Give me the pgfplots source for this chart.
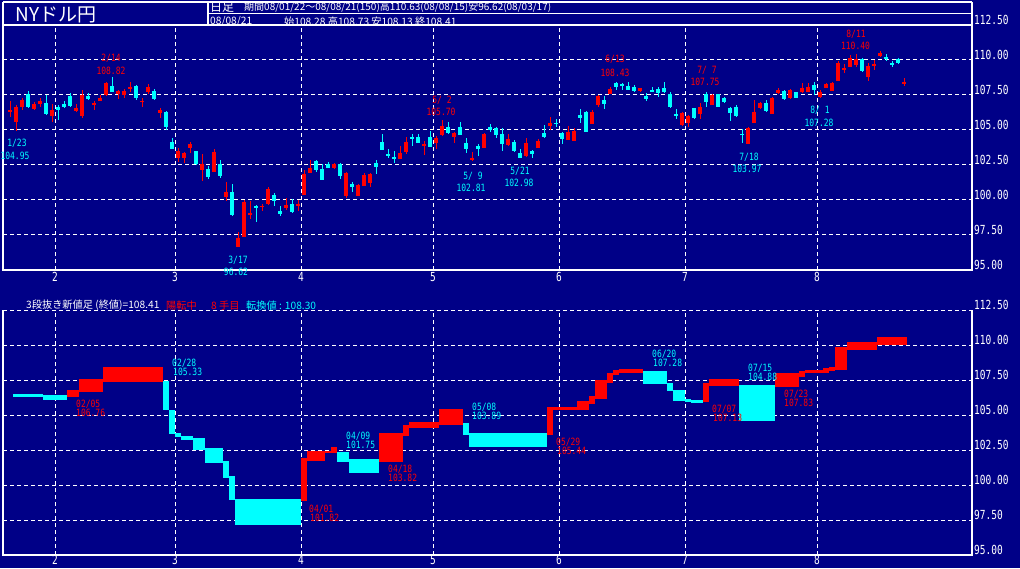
\documentclass[border=0pt]{standalone}
\usepackage{pgfplots}
\pgfplotsset{compat=1.18}
\usepackage{pgfplotstable}
\usepackage{fontspec}
\setmainfont{Noto Sans CJK JP}
\newfontfamily\jp{Noto Sans CJK JP}
\newfontfamily\monoS[FakeStretch=0.8]{DejaVu Sans Mono}
\newfontfamily\monoL[FakeStretch=0.76]{DejaVu Sans Mono}
\definecolor{bg}{RGB}{0,0,135}
\definecolor{cy}{RGB}{0,255,255}
\definecolor{rd}{RGB}{255,0,0}

% up candles (red)
\pgfplotstableread{
i O H L C
0 106.33 107.05 105.95 106.45
1 105.6 106.8 104.95 106.67
2 106.64 107.26 106.43 107.12
4 106.48 107.0 106.43 106.86
5 106.88 107.26 106.62 107.07
7 106.02 106.83 105.6 106.4
11 106.38 106.83 106.26 106.55
12 105.98 107.83 105.83 107.48
14 106.79 107.07 106.43 106.9
15 107.07 107.5 107.05 107.26
16 107.5 108.4 107.45 108.33
18 107.6 107.83 107.2 107.76
19 107.5 107.9 107.31 107.79
20 107.93 108.4 107.69 108.07
22 106.98 107.31 106.64 107.1
23 107.69 108.26 107.6 108.07
25 106.21 106.6 105.88 106.43
28 102.98 103.69 102.74 103.48
29 102.98 103.4 102.62 103.33
30 103.69 104.17 103.36 103.98
32 102.14 103.26 101.36 102.6
34 102.0 103.62 102.0 103.4
36 100.21 101.26 99.93 100.6
38 96.62 97.74 96.62 97.26
39 97.33 100.0 97.33 99.83
40 98.93 99.93 98.62 99.05
42 99.48 99.74 99.21 99.6
43 99.74 100.9 99.62 100.76
46 99.4 100.14 99.26 99.62
48 99.57 100.0 99.21 99.71
49 100.36 102.14 100.36 101.83
50 101.93 102.86 101.93 102.31
54 102.26 102.67 102.21 102.6
56 100.29 102.02 100.12 101.9
58 100.31 101.12 100.31 101.05
59 100.98 101.9 100.98 101.79
60 101.19 101.9 100.93 101.83
65 102.93 103.83 102.93 103.33
66 103.4 104.52 103.26 104.17
69 103.88 104.21 103.21 104.0
71 104.05 104.6 103.64 104.4
72 104.64 105.7 104.6 105.31
74 104.52 104.88 104.05 104.76
77 102.9 103.4 102.81 103.0
79 103.69 104.76 103.69 104.69
83 103.93 104.69 103.88 104.36
86 103.17 104.4 103.1 104.05
88 103.69 104.36 103.69 104.21
90 105.29 105.9 105.0 105.48
93 104.29 105.29 104.29 104.83
94 104.24 105.17 104.24 104.93
97 105.4 106.43 105.4 106.26
98 106.79 107.5 106.62 107.43
100 107.57 108.1 107.57 107.93
105 107.79 108.02 107.74 107.98
112 105.35 106.26 105.3 106.19
113 105.47 106.07 105.23 106.02
115 106.11 106.95 105.82 106.66
117 106.78 107.54 106.78 107.5
123 103.97 105.23 103.97 105.17
124 105.47 107.14 105.47 106.25
125 106.59 106.97 106.5 106.9
127 106.11 107.37 106.11 107.3
128 107.61 107.97 107.54 107.85
130 107.26 107.92 107.2 107.85
132 107.68 108.33 107.61 108.02
133 107.73 108.33 107.68 108.09
135 107.33 107.85 107.28 107.68
136 107.97 108.33 107.97 108.26
137 107.78 108.4 107.78 108.33
138 108.5 109.93 108.5 109.76
139 109.28 109.69 109.05 109.45
140 109.52 110.35 109.47 110.12
141 109.64 110.4 109.52 110.07
143 108.76 109.76 108.5 109.57
144 109.57 110.0 109.28 109.69
145 110.31 110.63 110.24 110.52
149 108.28 108.73 108.13 108.41
}\upT

% down candles (cyan)
\pgfplotstableread{
i O H L C
3 107.55 107.8 106.6 106.64
6 106.9 107.5 106.1 106.14
8 106.64 106.8 105.71 106.43
9 106.86 107.07 106.55 106.62
10 107.43 107.62 106.67 106.71
13 107.4 107.62 107.17 107.21
17 108.17 108.82 107.7 107.74
21 108.12 108.21 107.14 107.26
24 107.79 107.9 107.14 107.19
26 106.31 106.38 105.0 105.24
27 104.17 104.4 103.64 103.64
31 103.48 103.52 102.5 102.55
33 102.19 102.45 101.5 101.62
35 102.55 102.83 101.6 101.69
37 100.55 101.17 98.88 98.93
41 99.57 99.64 98.4 99.43
44 100.36 100.48 99.57 99.93
45 99.19 99.57 98.86 99.02
47 99.71 100.1 99.05 99.12
51 102.81 102.86 102.02 102.14
52 102.19 102.6 101.43 101.43
53 102.57 102.74 102.26 102.31
55 102.55 102.67 101.5 101.74
57 101.17 101.26 100.55 100.95
61 102.67 102.86 101.86 102.36
62 104.12 104.69 103.57 103.57
63 103.26 103.64 102.98 103.17
64 103.07 103.52 102.62 102.93
67 104.48 104.69 103.88 104.36
68 104.52 104.69 104.05 104.05
70 104.52 104.93 103.81 103.81
73 105.24 105.6 104.69 104.76
75 105.24 105.6 104.64 104.64
76 104.05 104.45 103.33 103.64
78 103.88 103.98 103.17 103.64
80 105.24 105.4 104.83 105.0
81 105.12 105.24 104.4 104.64
82 104.69 105.12 103.5 103.98
84 104.12 104.29 103.45 103.52
85 103.33 103.64 102.98 102.98
87 103.5 103.57 102.98 103.29
89 104.76 105.36 104.4 104.52
91 105.52 105.76 105.24 105.45
92 104.76 104.83 103.98 104.36
95 106.07 106.5 105.48 105.83
96 106.31 106.38 104.83 104.83
99 107.17 107.43 106.5 106.86
101 108.38 108.43 107.83 108.07
102 108.29 108.36 107.86 108.21
103 108.17 108.4 107.86 107.86
104 108.1 108.21 107.69 107.79
106 107.4 107.64 107.07 107.21
107 107.83 108.1 107.69 107.76
108 107.93 108.05 107.38 107.67
109 108.0 108.4 107.62 107.69
110 107.55 107.69 106.59 106.66
111 106.12 106.5 105.78 106.04
114 106.54 106.59 105.78 105.87
116 107.54 107.75 106.66 107.02
118 107.54 107.54 106.66 106.66
119 107.26 107.38 106.9 107.02
120 106.59 106.66 105.63 106.18
121 106.66 106.78 105.94 106.01
122 104.75 105.1 104.1 104.63
126 106.9 107.14 106.3 106.35
129 107.78 107.85 107.14 107.2
131 107.68 107.73 107.26 107.3
134 108.21 108.4 107.49 107.85
142 110.07 110.12 109.16 109.21
146 110.24 110.4 109.93 110.05
147 109.76 109.93 109.5 109.64
148 110.05 110.12 109.74 109.81
}\dnT

\pgfplotsset{
  panel/.style={
    scale only axis, width=969pt, height=245pt,
    xmin=-1.1667, xmax=160.3333, ymin=95, ymax=112.5,
    clip=false,
    axis line style={draw=none},
    xtick={7.5,27.5,48.5,70.5,91.5,112.5,134.5},
    xticklabels={2,3,4,5,6,7,8},
    ytick={95,97.5,100,102.5,105,107.5,110,112.5},
    yticklabel pos=right,
    major tick length=0pt,
    grid=major,
    major grid style={white, dash pattern=on 4pt off 3pt, line width=1pt},
    tick label style={text=white, font=\monoL\fontsize{12.5}{12.5}\selectfont},
    /pgf/number format/assume math mode=true,
    yticklabel style={anchor=west, inner sep=0pt, xshift=2pt, yshift=5pt,
      /pgf/number format/fixed, /pgf/number format/fixed zerofill,
      /pgf/number format/precision=2},
    xticklabel style={anchor=north, inner sep=0pt},
  },
  wick/.style={draw=none, mark=none, forget plot,
    error bars/.cd, y dir=both, y explicit, error mark=none,
    error bar style={draw=#1, solid, line width=1pt}},
  body/.style={draw=none, mark=none, forget plot,
    error bars/.cd, y dir=both, y explicit, error mark=none,
    error bar style={draw=#1, solid, line width=4.8pt}},
}

\newcommand\blk[5]{\addplot[fill=#1, draw=none, forget plot] coordinates {(#2,#4) (#3,#4) (#3,#5) (#2,#5)};}
\newcommand\lab[4]{\node[text=#1, inner sep=0pt, font=\monoS\fontsize{10}{10}\selectfont] at (#2pt,{(568-#3)*1pt}) {#4};}
\newcommand\labw[4]{\node[text=#1, inner sep=0pt, anchor=west, font=\monoS\fontsize{10}{10}\selectfont] at (#2pt,{(568-#3)*1pt}) {#4};}

\begin{document}
\begin{tikzpicture}
\path[use as bounding box] (0pt,0pt) rectangle (1020pt,568pt);
\fill[bg] (0pt,0pt) rectangle (1020pt,568pt);

% ---------- upper panel: daily candles ----------
\begin{axis}[panel, at={(3pt,298pt)}, anchor=south west,
  xticklabel style={yshift=-2pt}]
\addplot[wick=rd] table[x=i, y expr={(\thisrow{H}+\thisrow{L})/2}, y error expr={(\thisrow{H}-\thisrow{L})/2}] {\upT};
\addplot[body=rd] table[x=i, y expr={(\thisrow{O}+\thisrow{C})/2}, y error expr={max(abs(\thisrow{C}-\thisrow{O})/2,0.045)}] {\upT};
\addplot[wick=cy] table[x=i, y expr={(\thisrow{H}+\thisrow{L})/2}, y error expr={(\thisrow{H}-\thisrow{L})/2}] {\dnT};
\addplot[body=cy] table[x=i, y expr={(\thisrow{O}+\thisrow{C})/2}, y error expr={max(abs(\thisrow{C}-\thisrow{O})/2,0.045)}] {\dnT};
\draw[white, line width=2pt] (rel axis cs:0,1) rectangle (rel axis cs:1,0);
\end{axis}

% ---------- lower panel: three-line break ----------
\begin{axis}[panel, at={(3pt,13pt)}, anchor=south west,
  xticklabel style={yshift=-0.5pt}]
\blk{cy}{0.5}{5.5}{106.31}{106.5}
\blk{cy}{5.5}{9.5}{106.07}{106.43}
\blk{rd}{9.5}{11.5}{106.3}{106.8}
\blk{rd}{11.5}{15.5}{106.67}{107.55}
\blk{rd}{15.5}{25.5}{107.38}{108.43}
\blk{cy}{25.5}{26.5}{105.33}{107.45}
\blk{cy}{26.5}{27.5}{103.62}{105.33}
\blk{cy}{27.5}{28.5}{103.4}{103.69}
\blk{cy}{28.5}{30.5}{103.21}{103.5}
\blk{cy}{30.5}{32.5}{102.5}{103.33}
\blk{cy}{32.5}{35.5}{101.6}{102.64}
\blk{cy}{35.5}{36.5}{100.52}{101.71}
\blk{cy}{36.5}{37.5}{98.9}{100.64}
\blk{cy}{37.5}{48.5}{97.17}{99.0}
\blk{rd}{48.5}{49.5}{98.88}{101.93}
\blk{rd}{49.5}{52.5}{101.74}{102.43}
\blk{rd}{52.5}{53.5}{102.26}{102.43}
\blk{rd}{53.5}{54.5}{102.26}{102.71}
\blk{cy}{54.5}{56.5}{101.67}{102.38}
\blk{cy}{56.5}{61.5}{100.88}{101.83}
\blk{rd}{61.5}{65.5}{101.67}{103.74}
\blk{rd}{65.5}{66.5}{103.5}{104.29}
\blk{rd}{66.5}{71.5}{104.1}{104.52}
\blk{rd}{71.5}{75.5}{104.29}{105.43}
\blk{cy}{75.5}{76.5}{103.57}{104.45}
\blk{cy}{76.5}{89.5}{102.74}{103.74}
\blk{rd}{89.5}{90.5}{103.57}{105.55}
\blk{rd}{90.5}{94.5}{105.36}{105.6}
\blk{rd}{94.5}{96.5}{105.36}{106.0}
\blk{rd}{96.5}{97.5}{105.79}{106.36}
\blk{rd}{97.5}{99.5}{106.12}{107.5}
\blk{rd}{99.5}{100.5}{107.31}{108.02}
\blk{rd}{100.5}{101.5}{107.86}{108.21}
\blk{rd}{101.5}{105.5}{108.02}{108.29}
\blk{cy}{105.5}{109.5}{107.19}{108.17}
\blk{cy}{109.5}{110.5}{106.71}{107.31}
\blk{cy}{110.5}{112.5}{106.02}{106.79}
\blk{cy}{112.5}{113.5}{105.95}{106.14}
\blk{cy}{113.5}{115.5}{105.83}{106.07}
\blk{rd}{115.5}{116.5}{105.95}{107.26}
\blk{rd}{116.5}{121.5}{107.07}{107.57}
\blk{cy}{121.5}{127.5}{104.6}{107.14}
\blk{rd}{127.5}{131.5}{107.02}{107.98}
\blk{rd}{131.5}{132.5}{107.74}{108.14}
\blk{rd}{132.5}{135.5}{107.98}{108.21}
\blk{rd}{135.5}{136.5}{108.02}{108.33}
\blk{rd}{136.5}{137.5}{108.17}{108.45}
\blk{rd}{137.5}{139.5}{108.21}{109.88}
\blk{rd}{139.5}{144.5}{109.64}{110.19}
\blk{rd}{144.5}{149.5}{110.0}{110.6}
\draw[white, line width=2pt] (rel axis cs:0,1) -- (rel axis cs:0,0) -- (rel axis cs:1,0) -- (rel axis cs:1,1);
\end{axis}

% ---------- header ----------
\draw[white, line width=1.5pt] (3pt,566pt) -- (972pt,566pt);
\draw[white, line width=1.5pt] (208pt,554.5pt) -- (972pt,554.5pt);
\draw[white, line width=1.5pt] (3pt,566pt) -- (3pt,542pt);
\draw[white, line width=1.5pt] (208pt,566pt) -- (208pt,542pt);
\draw[white, line width=1.5pt] (972pt,566pt) -- (972pt,542pt);
\node[text=white, inner sep=0pt, font=\jp\fontsize{19}{19}\selectfont] at (56pt,553.5pt) {NYドル円};
\node[text=white, inner sep=0pt, anchor=west, font=\jp\fontsize{12}{12}\selectfont] at (210pt,560.5pt) {日足};
\node[text=white, inner sep=0pt, anchor=west, font=\jp\fontsize{10}{10}\selectfont] at (244pt,560.5pt) {期間08/01/22〜08/08/21(150)高110.63(08/08/15)安96.62(08/03/17)};
\node[text=white, inner sep=0pt, anchor=west, font=\jp\fontsize{10.2}{10.2}\selectfont] at (210pt,546.8pt) {08/08/21};
\node[text=white, inner sep=0pt, anchor=west, font=\jp\fontsize{10.2}{10.2}\selectfont] at (284pt,546.8pt) {始108.28 高108.73 安108.13 終108.41};

% lower panel header
\node[text=white, inner sep=0pt, anchor=west, font=\jp\fontsize{10.2}{10.2}\selectfont] at (26pt,262.3pt) {3段抜き新値足 (終値)=108.41};
\node[text=rd, inner sep=0pt, anchor=west, font=\jp\fontsize{10.2}{10.2}\selectfont] at (166pt,262.3pt) {陽転中};
\node[text=rd, inner sep=0pt, anchor=west, font=\jp\fontsize{10.2}{10.2}\selectfont] at (211pt,262.3pt) {8 手目};
\node[text=cy, inner sep=0pt, anchor=west, font=\jp\fontsize{10.2}{10.2}\selectfont] at (246pt,262.3pt) {転換値 : 108.30};

% upper panel annotations
\lab{cy}{17}{143.3}{1/23}   \lab{cy}{15}{156}{104.95}
\lab{rd}{111}{58}{2/14}     \lab{rd}{111}{70.7}{108.82}
\lab{cy}{238}{260.7}{3/17}  \lab{cy}{236}{272.3}{96.62}
\lab{rd}{442}{100}{5/ 2}    \lab{rd}{441}{111.7}{105.70}
\lab{cy}{473}{176.7}{5/ 9}  \lab{cy}{471}{188.3}{102.81}
\lab{cy}{520}{171}{5/21}    \lab{cy}{519}{183.3}{102.98}
\lab{rd}{615}{59}{6/13}     \lab{rd}{615}{72.7}{108.43}
\lab{rd}{707}{70.7}{7/ 7}   \lab{rd}{705}{82.3}{107.75}
\lab{cy}{749}{157.3}{7/18}  \lab{cy}{747}{169.3}{103.97}
\lab{cy}{820}{110.7}{8/ 1}  \lab{cy}{819}{123.3}{107.28}
\lab{rd}{856}{34}{8/11}     \lab{rd}{855.5}{45.7}{110.40}

% lower panel annotations
\labw{rd}{76}{404.3}{02/05}  \labw{rd}{76}{413.3}{106.76}
\labw{cy}{172}{363}{02/28}   \labw{cy}{173}{372}{105.33}
\labw{rd}{309}{509}{04/01}   \labw{rd}{310}{518}{101.82}
\labw{cy}{346}{436}{04/09}   \labw{cy}{346}{445}{101.75}
\labw{rd}{388}{469}{04/18}   \labw{rd}{388}{478}{103.82}
\labw{cy}{472}{407}{05/08}   \labw{cy}{472}{416}{103.89}
\labw{rd}{556}{442}{05/29}   \labw{rd}{557}{451}{105.44}
\labw{cy}{652}{354}{06/20}   \labw{cy}{653}{363}{107.28}
\labw{rd}{712}{409}{07/07}   \labw{rd}{713}{418}{107.13}
\labw{cy}{748}{368}{07/15}   \labw{cy}{748}{377}{104.88}
\labw{rd}{784}{394}{07/23}   \labw{rd}{784}{403}{107.83}
\end{tikzpicture}
\end{document}
